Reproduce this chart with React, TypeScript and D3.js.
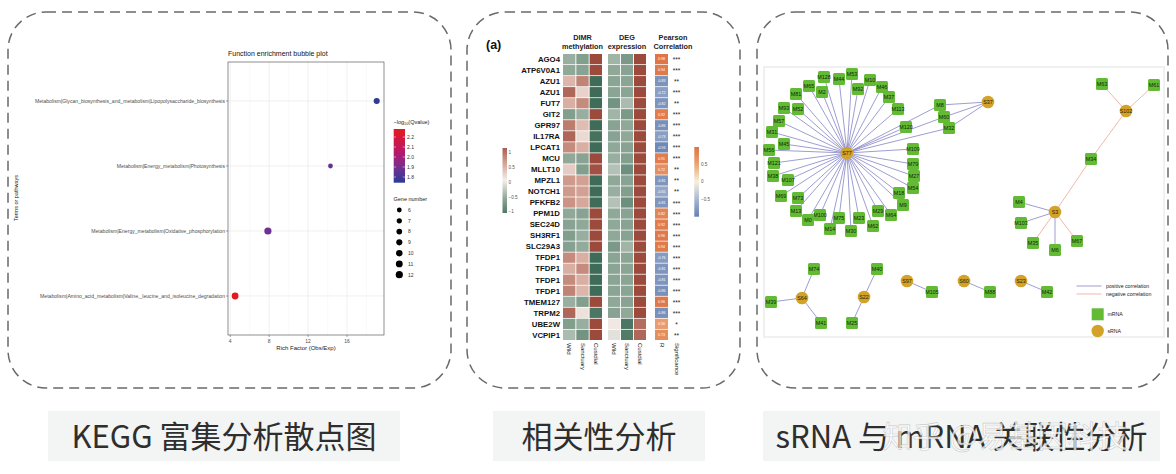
import React from "react";
import * as d3 from "d3";

// ---------------- Panel 1: KEGG bubble plot data ----------------
const terms = [
  "Metabolism|Glycan_biosynthesis_and_metabolism|Lipopolysaccharide_biosynthesis",
  "Metabolism|Energy_metabolism|Photosynthesis",
  "Metabolism|Energy_metabolism|Oxidative_phosphorylation",
  "Metabolism|Amino_acid_metabolism|Valine,_leucine_and_isoleucine_degradation",
];
const richFactor = [19.05, 14.3, 7.87, 4.5];
const qValue = [1.78, 1.88, 1.9, 2.27];
const geneNumber = [9, 6, 12, 11];
const richTicks = [4, 8, 12, 16];
const richMinor = [6, 10, 14, 18];
const qTicks = [2.2, 2.1, 2.0, 1.9, 1.8];
const geneLegend = [6, 7, 8, 9, 10, 11, 12];

// ---------------- Panel 2: heatmap data ----------------
const genes = [
  "AGO4", "ATP6V0A1", "AZU1", "AZU1", "FUT7", "GIT2", "GPR97", "IL17RA", "LPCAT1", "MCU",
  "MLLT10", "MPZL1", "NOTCH1", "PFKFB2", "PPM1D", "SEC24D", "SH3RF1", "SLC29A3", "TFDP1",
  "TFDP1", "TFDP1", "TFDP1", "TMEM127", "TRPM2", "UBE2W", "VCPIP1",
];
const dimrValues = [
  [-0.5, -0.65, 1.15], [-0.55, -0.6, 1.15], [0.4, 0.75, -1.15], [0.95, 0.2, -1.15],
  [0.45, 0.7, -1.15], [-0.65, -0.5, 1.15], [0.8, 0.35, -1.15], [0.95, 0.15, -1.1],
  [0.7, 0.45, -1.15], [-0.55, -0.6, 1.15], [0.25, -0.65, 1.1], [0.6, 0.55, -1.15],
  [0.6, 0.55, -1.15], [0.65, 0.5, -1.15], [-0.55, -0.6, 1.15], [-0.6, -0.55, 1.15],
  [-0.65, -0.5, 1.15], [-0.62, -0.53, 1.15], [0.7, 0.45, -1.15], [0.45, 0.7, -1.15],
  [0.7, 0.45, -1.15], [0.75, 0.4, -1.15], [-0.5, -0.65, 1.15], [0.95, 0.1, -1.05],
  [-0.65, -0.5, 1.15], [-0.4, -0.75, 1.15],
];
const degValues = [
  [-0.45, -0.7, 1.15], [-0.55, -0.6, 1.15], [-0.58, -0.58, 1.15], [-0.58, -0.58, 1.15],
  [-0.75, -0.4, 1.15], [-0.45, -0.7, 1.15], [-0.6, -0.55, 1.15], [-0.6, -0.55, 1.15],
  [-0.55, -0.6, 1.15], [-0.5, -0.65, 1.15], [-0.35, -0.8, 1.15], [-0.55, -0.6, 1.15],
  [-0.5, -0.65, 1.15], [-0.35, -0.8, 1.15], [-0.55, -0.6, 1.15], [-0.55, -0.6, 1.15],
  [-0.55, -0.6, 1.15], [-0.7, -0.45, 1.15], [-0.58, -0.58, 1.15], [-0.58, -0.58, 1.15],
  [-0.58, -0.58, 1.15], [-0.58, -0.58, 1.15], [-0.55, -0.6, 1.15], [-0.6, -0.55, 1.15],
  [0.05, -1.05, 0.9], [-0.1, -1.0, 0.95],
];
const pearsonR = [
  0.98, 0.94, -0.83, -0.72, -0.82, 0.92, -0.86, -0.73, -0.93, 0.91, 0.72, -0.81, -0.65,
  -0.81, 0.82, 0.92, 0.96, 0.94, -0.76, -0.81, -0.81, -0.86, 0.96, -0.86, 0.56, 0.73,
];
const significance = [
  "***", "***", "**", "***", "**", "***", "***", "***", "***", "***", "**", "**", "**",
  "***", "***", "***", "***", "***", "***", "***", "***", "***", "***", "***", "*", "**",
];
const groups = ["Wild", "Sanctuary", "Custdial"];
const heatLegendTicks = [1, 0.5, 0, -0.5, -1];
const rLegendTicks = [0.5, 0, -0.5];

// ---------------- Panel 3: network data (layout units) ----------------
const mrnaNodes = [
  ["M128", 60, 10], ["M44", 75, 12], ["M53", 88, 7], ["M10", 106, 13], ["M65", 45, 19],
  ["M2", 58, 25], ["M92", 94, 22], ["M46", 118, 20], ["M81", 32, 27], ["M37", 125, 30],
  ["M93", 20, 41], ["M52", 34, 42], ["M113", 134, 42], ["M57", 15, 54], ["M120", 142, 60],
  ["M31", 8, 65], ["M45", 20, 77], ["M56", 5, 83], ["M109", 149, 82], ["M121", 10, 96],
  ["M79", 149, 97], ["M38", 9, 109], ["M107", 24, 113], ["M27", 150, 109], ["M54", 149, 121],
  ["M69", 17, 129], ["M73", 34, 131], ["M18", 135, 126], ["M9", 139, 138], ["M13", 32, 144],
  ["M29", 114, 144], ["M64", 127, 148], ["M100", 56, 148], ["M0", 44, 153], ["M75", 75, 151],
  ["M23", 95, 151], ["M62", 109, 159], ["M14", 66, 162], ["M30", 87, 164],
  ["M8", 176, 38], ["M60", 180, 50], ["M32", 185, 61],
  ["M63", 338, 17], ["M61", 390, 18], ["M34", 327, 92], ["M4", 255, 135], ["M103", 257, 156],
  ["M35", 269, 176], ["M6", 291, 183], ["M67", 313, 174],
  ["M74", 50, 202], ["M39", 7, 235], ["M41", 57, 256], ["M40", 113, 202], ["M25", 88, 256],
  ["M105", 168, 225], ["M88", 226, 225], ["M42", 283, 225],
];
const srnaNodes = [
  ["S77", 83, 86], ["S37", 224, 35], ["S102", 362, 44], ["S3", 291, 145], ["S64", 38, 231],
  ["S22", 100, 230], ["S97", 143, 214], ["S60", 200, 214], ["S23", 257, 214],
];
const s77Targets = [
  "M128", "M44", "M53", "M10", "M65", "M2", "M92", "M46", "M81", "M37", "M93", "M52", "M113",
  "M57", "M120", "M31", "M45", "M56", "M109", "M121", "M79", "M38", "M107", "M27", "M54",
  "M69", "M73", "M18", "M9", "M13", "M29", "M64", "M100", "M0", "M75", "M23", "M62", "M14",
  "M30", "M8", "M60", "M32",
];
const otherEdges = [
  ["S37", "M8", "pos"], ["S37", "M60", "pos"], ["S37", "M32", "pos"],
  ["S102", "M63", "neg"], ["S102", "M61", "neg"], ["S102", "M34", "neg"], ["S3", "M34", "neg"],
  ["S3", "M4", "pos"], ["S3", "M103", "pos"], ["S3", "M35", "neg"], ["S3", "M6", "pos"],
  ["S3", "M67", "neg"], ["S64", "M74", "pos"], ["S64", "M39", "pos"], ["S64", "M41", "pos"],
  ["S22", "M40", "pos"], ["S22", "M25", "pos"], ["S97", "M105", "pos"], ["S60", "M88", "pos"],
  ["S23", "M42", "pos"],
];
const captions = ["KEGG 富集分析散点图", "相关性分析", "sRNA 与 mRNA 关联性分析"];
const watermark = "知乎 @易基因科技";

const SANS = "'Liberation Sans', Arial, Helvetica, sans-serif";
const CJK = "'Noto Sans CJK SC', 'Noto Sans', sans-serif";

function BubblePanel() {
  const x = d3.scaleLinear().domain([3.77, 19.8]).range([228, 384]);
  const y = d3.scalePoint<string>().domain(terms).range([62, 335]).padding(0.6);
  const r = d3.scaleSqrt().domain([6, 12]).range([2.4, 3.6]);
  const col = d3
    .scaleLinear<string>()
    .domain([1.77, 1.9, 2.05, 2.28])
    .range(["#2a3b98", "#6d3191", "#b5186f", "#e41a1c"]);
  const qy = d3.scaleLinear().domain([1.8, 2.2]).range([177, 137]);
  const gy = d3.scaleLinear().domain([6, 12]).range([210, 274.7]);
  const gradStops = d3.range(0, 1.0001, 0.1).map((t) => 1.77 + t * (2.28 - 1.77));
  return (
    <g>
      <defs>
        <linearGradient id="qgrad" x1="0" y1="1" x2="0" y2="0">
          {gradStops.map((v, i) => (
            <stop key={i} offset={`${i * 10}%`} stopColor={col(v)} />
          ))}
        </linearGradient>
      </defs>
      <text x={228} y={56} fontSize={7} fontFamily={SANS} fill="#111">
        Function enrichment bubble plot
      </text>
      {richMinor.map((t) => (
        <line key={"mn" + t} x1={x(t)} x2={x(t)} y1={62} y2={335} stroke="#f2f2f2" strokeWidth={0.4} />
      ))}
      {richTicks.map((t) => (
        <line key={"mj" + t} x1={x(t)} x2={x(t)} y1={62} y2={335} stroke="#e6e6e6" strokeWidth={0.6} />
      ))}
      {terms.map((t) => (
        <line key={"h" + t} x1={228} x2={384} y1={y(t)} y2={y(t)} stroke="#e6e6e6" strokeWidth={0.6} />
      ))}
      <rect x={228} y={62} width={156} height={273} fill="none" stroke="#444" strokeWidth={0.6} />
      {terms.map((t) => (
        <g key={"yl" + t}>
          <line x1={226} x2={228} y1={y(t)} y2={y(t)} stroke="#444" strokeWidth={0.5} />
          <text x={225} y={(y(t) as number) + 1.7} fontSize={5.1} textAnchor="end" fontFamily={SANS} fill="#4d4d4d">
            {t}
          </text>
        </g>
      ))}
      {richTicks.map((t) => (
        <g key={"xt" + t}>
          <line x1={x(t)} x2={x(t)} y1={335} y2={337} stroke="#444" strokeWidth={0.5} />
          <text x={x(t)} y={342.5} fontSize={5} textAnchor="middle" fontFamily={SANS} fill="#4d4d4d">
            {t}
          </text>
        </g>
      ))}
      <text x={306} y={350} fontSize={6} textAnchor="middle" fontFamily={SANS} fill="#222">
        Rich Factor (Obs/Exp)
      </text>
      <text
        transform={`translate(17.5,198) rotate(-90)`}
        fontSize={5.5}
        textAnchor="middle"
        fontFamily={SANS}
        fill="#222"
      >
        Terms or pathways
      </text>
      {terms.map((t, i) => (
        <circle key={"b" + t} cx={x(richFactor[i])} cy={y(t)} r={r(geneNumber[i])} fill={col(qValue[i])} />
      ))}
      {/* colour legend */}
      <text x={393.5} y={124} fontSize={5.5} fontFamily={SANS} fill="#222">
        −log
        <tspan fontSize={3.8} dy={1.2}>10</tspan>
        <tspan dy={-1.2}>(Qvalue)</tspan>
      </text>
      <rect x={393.7} y={129} width={11.3} height={53.7} fill="url(#qgrad)" />
      {qTicks.map((t) => (
        <g key={"q" + t}>
          <line x1={393.7} x2={396} y1={qy(t)} y2={qy(t)} stroke="#fff" strokeWidth={0.5} />
          <line x1={402.7} x2={405} y1={qy(t)} y2={qy(t)} stroke="#fff" strokeWidth={0.5} />
          <text x={407} y={qy(t) + 1.7} fontSize={5} fontFamily={SANS} fill="#333">
            {t.toFixed(1)}
          </text>
        </g>
      ))}
      <text x={393.5} y={201} fontSize={5.5} fontFamily={SANS} fill="#222">
        Gene number
      </text>
      {geneLegend.map((g) => (
        <g key={"g" + g}>
          <circle cx={399.3} cy={gy(g)} r={r(g)} fill="#000" />
          <text x={408} y={gy(g) + 1.8} fontSize={5} fontFamily={SANS} fill="#333">
            {g}
          </text>
        </g>
      ))}
    </g>
  );
}

function HeatPanel() {
  const yRow = d3.scaleBand<number>().domain(d3.range(genes.length)).range([54, 340]).paddingInner(0.07);
  const xDimr = d3.scaleBand<number>().domain([0, 1, 2]).range([563, 602]).paddingInner(0.07);
  const xDeg = d3.scaleBand<number>().domain([0, 1, 2]).range([608, 646]).paddingInner(0.07);
  const xR: [number, number] = [655, 668];
  const heat = d3
    .scaleLinear<string>()
    .domain([-1.15, -0.55, 0, 0.55, 1.15])
    .range(["#3e6c58", "#8fa898", "#f4eeeb", "#d3a193", "#9b4a3c"])
    .clamp(true);
  const rCol = d3
    .scaleLinear<string>()
    .domain([-1, -0.5, 0, 0.5, 1])
    .range(["#6580b0", "#a9b8d4", "#f6f1de", "#eaa373", "#de7446"])
    .clamp(true);
  const legY = d3.scaleLinear().domain([-1, 1]).range([211.7, 152.7]);
  const legRY = d3.scaleLinear().domain([-0.5, 0.5]).range([199, 164.3]);
  const stopsH = d3.range(0, 1.0001, 0.1).map((t) => -1.1 + t * 2.2);
  const stopsR = d3.range(0, 1.0001, 0.1).map((t) => -1 + t * 2);
  const bw = yRow.bandwidth();
  return (
    <g fontFamily={SANS}>
      <defs>
        <linearGradient id="hgrad" x1="0" y1="1" x2="0" y2="0">
          {stopsH.map((v, i) => (
            <stop key={i} offset={`${i * 10}%`} stopColor={heat(v * 0.92)} />
          ))}
        </linearGradient>
        <linearGradient id="rgrad" x1="0" y1="1" x2="0" y2="0">
          {stopsR.map((v, i) => (
            <stop key={i} offset={`${i * 10}%`} stopColor={rCol(v)} />
          ))}
        </linearGradient>
      </defs>
      <text x={486} y={48.5} fontSize={12.5} fontWeight="bold" fill="#111">
        (a)
      </text>
      <text x={582.5} y={40} fontSize={7.3} fontWeight="bold" textAnchor="middle" fill="#222">DIMR</text>
      <text x={582.5} y={48.5} fontSize={7.3} fontWeight="bold" textAnchor="middle" fill="#222">methylation</text>
      <text x={627} y={40} fontSize={7.3} fontWeight="bold" textAnchor="middle" fill="#222">DEG</text>
      <text x={627} y={48.5} fontSize={7.3} fontWeight="bold" textAnchor="middle" fill="#222">expression</text>
      <text x={673} y={40} fontSize={7.3} fontWeight="bold" textAnchor="middle" fill="#222">Pearson</text>
      <text x={673} y={48.5} fontSize={7.3} fontWeight="bold" textAnchor="middle" fill="#222">Correlation</text>
      {genes.map((g, i) => {
        const yy = yRow(i) as number;
        return (
          <g key={"row" + i}>
            <text x={560} y={yy + bw / 2 + 2.8} fontSize={7.8} fontWeight="bold" textAnchor="end" fill="#111">
              {g}
            </text>
            {dimrValues[i].map((v, j) => (
              <rect key={"d" + j} x={xDimr(j)} y={yy} width={xDimr.bandwidth()} height={bw} fill={heat(v)} />
            ))}
            {degValues[i].map((v, j) => (
              <rect key={"e" + j} x={xDeg(j)} y={yy} width={xDeg.bandwidth()} height={bw} fill={heat(v)} />
            ))}
            <rect x={xR[0]} y={yy} width={xR[1] - xR[0]} height={bw} fill={rCol(pearsonR[i])} />
            <text
              x={(xR[0] + xR[1]) / 2}
              y={yy + bw / 2 + 1.3}
              fontSize={3.6}
              textAnchor="middle"
              fill="#fff"
            >
              {pearsonR[i].toFixed(2)}
            </text>
            <text x={676.5} y={yy + bw / 2 + 3} fontSize={6.5} textAnchor="middle" fill="#222">
              {significance[i]}
            </text>
          </g>
        );
      })}
      {groups.map((g, j) => (
        <g key={"cl" + j}>
          <text
            transform={`translate(${(xDimr(j) as number) + xDimr.bandwidth() / 2 - 2},343) rotate(90)`}
            fontSize={6}
            fill="#222"
          >
            {g}
          </text>
          <text
            transform={`translate(${(xDeg(j) as number) + xDeg.bandwidth() / 2 - 2},343) rotate(90)`}
            fontSize={6}
            fill="#222"
          >
            {g}
          </text>
        </g>
      ))}
      <text transform={`translate(${(xR[0] + xR[1]) / 2 - 2},343) rotate(90)`} fontSize={6} fill="#222">
        R
      </text>
      <text transform={`translate(674.5,343) rotate(90)`} fontSize={6} fill="#222">
        Significance
      </text>
      {/* heatmap legend */}
      <rect x={502.5} y={148} width={4.5} height={65} fill="url(#hgrad)" />
      {heatLegendTicks.map((t) => (
        <text key={"hl" + t} x={508.5} y={legY(t) + 1.6} fontSize={4.6} fill="#555">
          {t < 0 ? "−" + Math.abs(t) : t}
        </text>
      ))}
      {/* pearson legend */}
      <rect x={694.3} y={147} width={4.7} height={69.7} fill="url(#rgrad)" />
      {rLegendTicks.map((t) => (
        <text key={"rl" + t} x={701} y={legRY(t) + 1.6} fontSize={4.6} fill="#555">
          {t < 0 ? "−" + Math.abs(t) : t}
        </text>
      ))}
    </g>
  );
}

function NetworkPanel() {
  const x = d3.scaleLinear().domain([0, 400]).range([764, 1164]);
  const y = d3.scaleLinear().domain([0, 270]).range([67, 337]);
  const pos = new Map<string, [number, number]>();
  mrnaNodes.forEach(([n, a, b]) => pos.set(n as string, [x(a as number), y(b as number)]));
  srnaNodes.forEach(([n, a, b]) => pos.set(n as string, [x(a as number), y(b as number)]));
  const edges: [string, string, string][] = [
    ...s77Targets.map((t) => ["S77", t, "pos"] as [string, string, string]),
    ...(otherEdges as [string, string, string][]),
  ];
  const posCol = "#7272bd";
  const negCol = "#ec9b84";
  const green = "#62ba35";
  const gold = "#d3a228";
  return (
    <g fontFamily={SANS}>
      <rect x={764} y={67} width={400} height={270} fill="#fff" stroke="#ececec" strokeWidth={1.5} />
      {edges.map(([a, b, k], i) => {
        const p = pos.get(a)!;
        const q = pos.get(b)!;
        return (
          <line
            key={"e" + i}
            x1={p[0]}
            y1={p[1]}
            x2={q[0]}
            y2={q[1]}
            stroke={k === "pos" ? posCol : negCol}
            strokeWidth={0.7}
          />
        );
      })}
      {mrnaNodes.map(([n]) => {
        const p = pos.get(n as string)!;
        return (
          <g key={"m" + n}>
            <rect x={p[0] - 6} y={p[1] - 6} width={12} height={12} rx={1.5} fill={green} />
            <text x={p[0]} y={p[1] + 1.9} fontSize={5.4} textAnchor="middle" fill="#0d2a06">
              {n}
            </text>
          </g>
        );
      })}
      {srnaNodes.map(([n]) => {
        const p = pos.get(n as string)!;
        return (
          <g key={"s" + n}>
            <circle cx={p[0]} cy={p[1]} r={6.3} fill={gold} />
            <text x={p[0]} y={p[1] + 1.9} fontSize={5.4} textAnchor="middle" fill="#2a1e05">
              {n}
            </text>
          </g>
        );
      })}
      {/* legend */}
      <line x1={1076.5} x2={1101.5} y1={286} y2={286} stroke={posCol} strokeWidth={0.7} />
      <text x={1106} y={287.8} fontSize={5.2} fill="#222">positive correlation</text>
      <line x1={1076.5} x2={1101.5} y1={294} y2={294} stroke={negCol} strokeWidth={0.7} />
      <text x={1106} y={295.8} fontSize={5.2} fill="#222">negative correlation</text>
      <rect x={1091.7} y={308.3} width={12} height={12} fill={green} />
      <text x={1107.5} y={316} fontSize={5.2} fill="#222">mRNA</text>
      <circle cx={1097.7} cy={331} r={6.2} fill={gold} />
      <text x={1107.5} y={333} fontSize={5.2} fill="#222">sRNA</text>
    </g>
  );
}

export default function App() {
  const panels = [
    { x: 8, w: 443 },
    { x: 467, w: 273 },
    { x: 757, w: 411 },
  ];
  const capBoxes = [
    { x: 48, w: 352 },
    { x: 493, w: 212 },
    { x: 763, w: 397 },
  ];
  return (
    <svg
      width={1176}
      height={474}
      viewBox="0 0 1176 474"
      style={{ position: "absolute", left: 0, top: 0, display: "block", background: "#fff" }}
    >
      <rect x={0} y={0} width={1176} height={474} fill="#fff" />
      {panels.map((p, i) => (
        <rect
          key={"p" + i}
          x={p.x}
          y={12}
          width={p.w}
          height={376}
          rx={38}
          ry={38}
          fill="none"
          stroke="#6a6a6a"
          strokeWidth={1.5}
          strokeDasharray="10 6"
        />
      ))}
      <BubblePanel />
      <HeatPanel />
      <NetworkPanel />
      {capBoxes.map((b, i) => (
        <g key={"c" + i}>
          <rect x={b.x} y={411} width={b.w} height={50} fill="#f3f4f4" />
          <text
            x={b.x + b.w / 2}
            y={447.5}
            fontSize={31}
            textAnchor="middle"
            fontFamily={CJK}
            fontWeight={400}
            fill="#2e2e2e"
          >
            {captions[i]}
          </text>
        </g>
      ))}
      <text
        x={1005}
        y={447}
        fontSize={30}
        textAnchor="middle"
        fontFamily={CJK}
        fill="#ffffff"
        fillOpacity={0.75}
        stroke="#9a9a9a"
        strokeOpacity={0.5}
        strokeWidth={0.6}
      >
        {watermark}
      </text>
    </svg>
  );
}
